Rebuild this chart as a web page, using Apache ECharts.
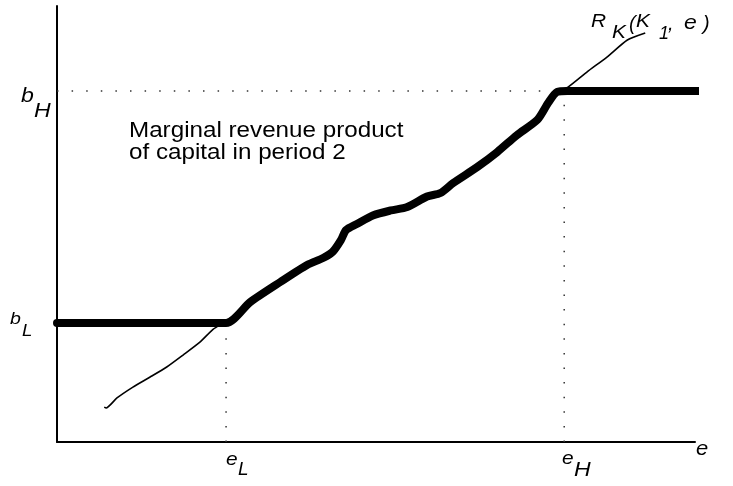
<!DOCTYPE html>
<html>
<head>
<meta charset="utf-8">
<script src="https://cdn.jsdelivr.net/npm/echarts@6/dist/echarts.min.js"></script>
<style>html,body{margin:0;padding:0;background:#fff;}#c{width:733px;height:486px;}</style>
</head>
<body>
<div id="c"></div>
<script>
// Levels and thresholds (axis units 0..100)
var bL = 27.3, bH = 80.5, eL = 26.5, eH = 79.5;

// Thick curve: marginal revenue product of capital in period 2
var mrpX = [0, 26.5, 30.3, 35.0, 39.2, 41.7, 43.2, 44.5, 45.3, 47.0, 49.6, 52.3, 54.9, 58.0, 60.1, 62.1, 65.9, 69.0, 72.1, 75.3, 77.0, 78.4, 80.0, 106];
var mrpY = [27.3, 27.3, 32.1, 36.7, 40.6, 42.2, 43.6, 46.3, 48.6, 50.0, 52.0, 53.1, 53.9, 56.3, 57.1, 59.4, 63.1, 66.5, 70.4, 73.9, 77.8, 80.3, 80.5, 80.5];

// Thin line R_K(K1,e)
var rkX = [7.4, 7.7, 9.4, 11.9, 14.6, 17.2, 19.8, 22.4, 24.5, 26.5, 30.3, 35.0, 39.2, 41.7, 43.2, 44.5, 45.3, 47.0, 49.6, 52.3, 54.9, 58.0, 60.1, 62.1, 65.9, 69.0, 72.1, 75.3, 77.0, 78.4, 80.1, 83.1, 86.2, 89.4, 92.2];
var rkY = [8.0, 7.8, 10.1, 12.6, 14.9, 17.2, 20.0, 22.9, 25.9, 27.6, 32.1, 36.7, 40.6, 42.2, 43.6, 46.3, 48.6, 50.0, 52.0, 53.1, 53.9, 56.3, 57.1, 59.4, 63.1, 66.5, 70.4, 73.9, 77.8, 80.3, 81.4, 84.9, 88.3, 92.2, 93.8];

function zip(xs, ys){ return xs.map(function(x,i){ return [x, ys[i]]; }); }

var chart = echarts.init(document.getElementById('c'), null, {renderer:'canvas'});
var F = 'Liberation Sans, Arial, Helvetica, sans-serif';
var dot = {color:'#333', width:1.5, type:[1.5, 13.1]};

function txt(s, x, y, size, italic, sx){
  return {type:'text', x:x, y:y, z:10, scaleX: sx || 1,
    style:{text:s, font:(italic ? 'italic ' : '') + size + 'px ' + F, fill:'#000',
      align:'left', verticalAlign:'middle'}};
}

chart.setOption({
  animation:false,
  backgroundColor:'#fff',
  grid:{left:57, right:38, top:6, bottom:44},
  xAxis:{type:'value', min:0, max:100, axisLine:{show:true, lineStyle:{color:'#000', width:2}},
    axisTick:{show:false}, axisLabel:{show:false}, splitLine:{show:false}},
  yAxis:{type:'value', min:0, max:100, axisLine:{show:true, lineStyle:{color:'#000', width:2}},
    axisTick:{show:false}, axisLabel:{show:false}, splitLine:{show:false}},
  series:[
    {type:'line', data:[[0,bH],[eH,bH]], symbol:'none', lineStyle:dot, silent:true},
    {type:'line', data:[[eH,0],[eH,bH]], symbol:'none', lineStyle:dot, silent:true},
    {type:'line', data:[[eL,0],[eL,bL]], symbol:'none', lineStyle:dot, silent:true},
    {type:'line', data:zip(rkX, rkY), symbol:'none', smooth:0.2,
      lineStyle:{color:'#000', width:1.6}, silent:true, clip:false},
    {type:'line', data:zip(mrpX, mrpY), symbol:'none', smooth:0.25, clip:false,
      lineStyle:{color:'#000', width:8, cap:'round', join:'round'}, silent:true}
  ],
  graphic:[
    txt('b', 21, 96, 21, true, 1.1),
    txt('H', 34, 111, 21, true, 1.1),
    txt('b', 10, 319, 17, true, 1.15),
    txt('L', 22, 331, 17, true, 1.1),
    txt('e', 226, 460, 19, true, 1.1),
    txt('L', 238, 470, 19, true),
    txt('e', 562, 459, 19, true, 1.1),
    txt('H', 574, 470, 21, true, 1.1),
    txt('e', 696, 449, 20, true, 1.1),
    txt('R', 591, 22, 19, true, 1.1),
    txt('K', 612, 33, 19, true, 1.1),
    txt('(', 629, 24, 20, true),
    txt('K', 636, 22, 19, true, 1.1),
    txt('1', 659, 34, 18, true),
    txt(',', 668, 24, 20, true),
    txt('e', 684, 23, 20, true, 1.15),
    txt(')', 703, 24, 20, true),
    txt('Marginal revenue product', 129, 131, 22, false, 1.1),
    txt('of capital in period 2', 129, 153, 22, false, 1.1)
  ]
});
</script>
</body>
</html>
